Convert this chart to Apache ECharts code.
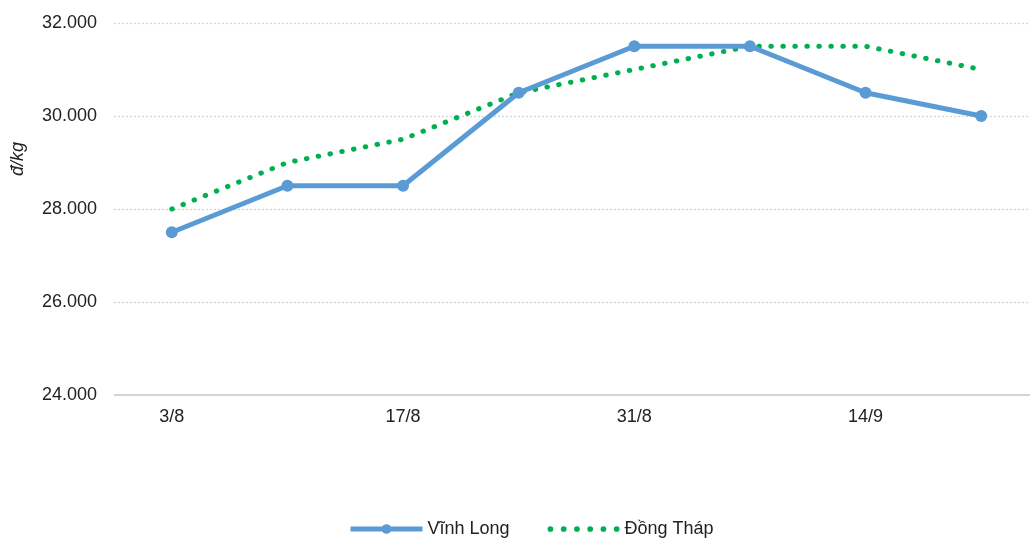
<!DOCTYPE html>
<html><head><meta charset="utf-8">
<script src="https://cdn.jsdelivr.net/npm/echarts@6/dist/echarts.min.js"></script>
<style>html,body{margin:0;padding:0;background:#fff}#c{width:1030px;height:540px}</style>
</head><body><div id="c"></div>
<script>
const categories = ['3/8','10/8','17/8','24/8','31/8','7/9','14/9','21/9'];
const vinhLong = [27500, 28500, 28500, 30500, 31500, 31500, 30500, 30000];
const dongThap = [28000, 29000, 29500, 30500, 31000, 31500, 31500, 31000];
const yName = 'đ/kg';
const seriesNames = ['Vĩnh Long', 'Đồng Tháp'];

let dotPath = 'path://';
for (let i = 0; i < 6; i++) {
  const cx = 6 + i * 12, r = 2.6;
  dotPath += `M${cx - r},6 a${r},${r} 0 1,0 ${2*r},0 a${r},${r} 0 1,0 ${-2*r},0 Z `;
}

const chart = echarts.init(document.getElementById('c'));
const font = 'Liberation Sans, Arial, sans-serif';
chart.setOption({
  animation: false,
  textStyle: {fontFamily: font},
  grid: {left: 114, width: 925, top: 23, bottom: 145, containLabel: false, outerBoundsMode: 'none'},
  legend: {
    top: 515, left: 343, itemGap: 38, itemWidth: 72, itemHeight: 12,
    textStyle: {fontSize: 18, color: '#222', fontFamily: font},
    data: [
      {name: seriesNames[0], lineStyle: {width: 5}},
      {name: seriesNames[1], icon: dotPath, itemStyle: {color: '#00B050'}}
    ]
  },
  xAxis: {
    type: 'category', data: categories, boundaryGap: true,
    axisLine: {show: false}, axisTick: {show: false},
    axisLabel: {interval: 1, color: '#222', fontSize: 18, margin: 13, fontFamily: font},
    splitLine: {show: false}
  },
  yAxis: {
    type: 'value', min: 24000, max: 32000, interval: 2000,
    name: yName, nameLocation: 'middle', nameRotate: 90, nameGap: 87,
    nameTextStyle: {fontStyle: 'italic', fontSize: 18, color: '#222', fontFamily: font, padding: [0, 0, 0, 100]},
    axisLine: {show: false}, axisTick: {show: false},
    axisLabel: {color: '#222', fontSize: 18, margin: 17, fontFamily: font,
      formatter: v => v.toLocaleString('de-DE')},
    splitLine: {lineStyle: {color: '#d4d4d4', type: [2, 2], width: 1.3}}
  },
  series: [
    {
      name: seriesNames[0], type: 'line', data: vinhLong,
      symbol: 'circle', symbolSize: 12,
      itemStyle: {color: '#5B9BD5'},
      lineStyle: {color: '#5B9BD5', width: 5},
      markLine: {
        silent: true, symbol: 'none', label: {show: false},
        lineStyle: {color: '#d4d4d4', type: 'solid', width: 2},
        data: [{yAxis: 24000}]
      },
      z: 3
    },
    {
      name: seriesNames[1], type: 'line', data: dongThap,
      symbol: 'none', showSymbol: false,
      itemStyle: {color: '#00B050'},
      lineStyle: {color: '#00B050', width: 5, type: [0.5, 11.5], cap: 'round'},
      z: 2
    }
  ]
});
</script></body></html>
